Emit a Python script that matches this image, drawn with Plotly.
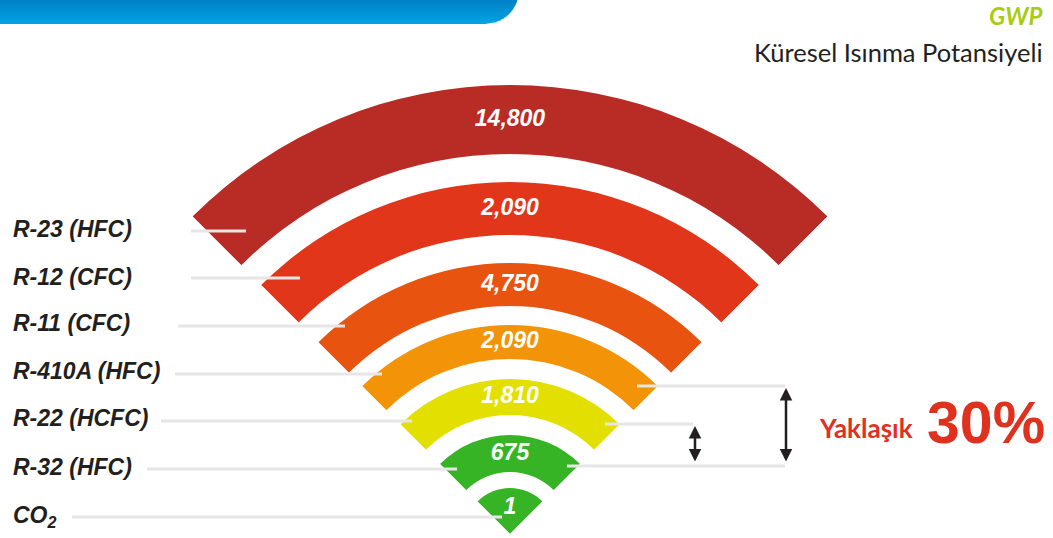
import math
import plotly.graph_objects as go

W, H = 1053, 538

# ---------------- data ----------------
refrigerants = ["R-23 (HFC)", "R-12 (CFC)", "R-11 (CFC)", "R-410A (HFC)",
                "R-22 (HCFC)", "R-32 (HFC)", "CO<sub>2</sub>"]
gwp_values = [14800, 2090, 4750, 2090, 1810, 675, 1]
title_top = "GWP"
title_sub = "Küresel Isınma Potansiyeli"
note_word = "Yaklaşık"
note_pct = "30%"

# ---------------- styles / geometry (pixels) ----------------
band_colors = ["#b92b25", "#e2361a", "#e8530f", "#f39307", "#e3df00", "#37b425", "#37b425"]
band_outer = [449, 352, 271, 209, 155, 99, 46]
band_inner = [380, 299, 228, 175, 119, 62, 0]
value_r = [414, 325, 249, 192, 137, 80, 26]
CX, CY, RMAX, HALF_ANGLE = 510, 534, 450, 45

label_y = [229, 277, 323, 371, 418, 467, 516]
lead_x0 = [191, 191, 178, 175, 161, 147, 72]
lead_x1 = [246, 300, 345, 382, 412, 457, 502]
lead_y = [231, 278, 326, 374, 421, 469, 517]
right_leads = [(637, 785, 386), (605, 693, 424), (567, 785, 466)]
arrows = [(786, 388, 463), (695, 426, 463)]

DARK = "#231f20"
LINE = "#e6e6e6"
RED = "#e0301e"
SANS = "Liberation Sans, Arial, sans-serif"
HUMAN = "Lato, Noto Sans, sans-serif"


def px(x):
    return x / W


def py(y):
    return 1 - y / H


fig = go.Figure()

# arcs: barpolar with base
fig.add_trace(go.Barpolar(
    theta=[90] * len(gwp_values),
    r=[o - i for o, i in zip(band_outer, band_inner)],
    base=band_inner,
    width=[2 * HALF_ANGLE] * len(gwp_values),
    marker=dict(color=band_colors, line=dict(width=0)),
    hovertext=[f"{n.replace('<sub>', '').replace('</sub>', '')}: {v:,}"
               for n, v in zip(refrigerants, gwp_values)],
    hoverinfo="text",
    showlegend=False,
))

fig.add_trace(go.Scatterpolar(
    theta=[90] * len(gwp_values),
    r=value_r,
    mode="text",
    text=[f"{v:,}" for v in gwp_values],
    textposition="middle center",
    textfont=dict(family=SANS, size=23, color="white", weight="bold", style="italic"),
    hoverinfo="skip",
    showlegend=False,
))

sin45 = math.sin(math.radians(HALF_ANGLE))
fig.update_layout(
    width=W, height=H,
    margin=dict(l=0, r=0, t=0, b=0),
    paper_bgcolor="white",
    plot_bgcolor="white",
    showlegend=False,
    polar=dict(
        domain=dict(x=[px(CX - RMAX * sin45), px(CX + RMAX * sin45)],
                    y=[py(CY), py(CY - RMAX)]),
        sector=[90 - HALF_ANGLE, 90 + HALF_ANGLE],
        bgcolor="rgba(0,0,0,0)",
        radialaxis=dict(visible=False, range=[0, RMAX], showgrid=False, showline=False),
        angularaxis=dict(visible=False, rotation=0, direction="counterclockwise",
                         showgrid=False, showline=False),
    ),
)

shapes = []
# blue header bar with gradient + rounded corner
n_strips = 12
bar_h = 24
top_c = (0, 0x82, 0xc8)
bot_c = (0, 0xa2, 0xe2)
rr = 34
ccx, ccy = 485, bar_h - rr


def edge_x(y):
    d = y - ccy
    return ccx + math.sqrt(max(rr * rr - d * d, 0))


for k in range(n_strips):
    y0 = k * bar_h / n_strips
    y1 = min((k + 1) * bar_h / n_strips + 0.3, bar_h)
    t = k / (n_strips - 1)
    col = tuple(int(round(a + (b - a) * t)) for a, b in zip(top_c, bot_c))
    path = (f"M {px(0)},{py(y0)} L {px(edge_x(y0))},{py(y0)} "
            f"L {px(edge_x(y1))},{py(y1)} L {px(0)},{py(y1)} Z")
    shapes.append(dict(type="path", xref="paper", yref="paper", path=path,
                       fillcolor=f"rgb{col}", line=dict(width=0), layer="below"))

for x0, x1, y in zip(lead_x0, lead_x1, lead_y):
    shapes.append(dict(type="line", xref="paper", yref="paper",
                       x0=px(x0), x1=px(x1), y0=py(y), y1=py(y),
                       line=dict(color=LINE, width=3), layer="above"))
for x0, x1, y in right_leads:
    shapes.append(dict(type="line", xref="paper", yref="paper",
                       x0=px(x0), x1=px(x1), y0=py(y), y1=py(y),
                       line=dict(color=LINE, width=3), layer="above"))

annotations = []
for name, y in zip(refrigerants, label_y):
    annotations.append(dict(
        x=px(11), y=py(y), xref="paper", yref="paper", xanchor="left", yanchor="middle",
        text=name, showarrow=False,
        font=dict(family=SANS, size=23, color=DARK, weight="bold", style="italic"),
    ))

for x, y0, y1 in arrows:
    annotations.append(dict(
        x=px(x), y=py(y0), xref="paper", yref="paper",
        ax=0, ay=y1 - y0, text="", showarrow=True,
        arrowhead=2, startarrowhead=2, arrowside="end+start",
        arrowsize=1.0, startarrowsize=1.0, arrowwidth=2.5, arrowcolor=DARK,
        standoff=0, startstandoff=0,
    ))

annotations.append(dict(
    x=px(1045), y=py(16), xref="paper", yref="paper", xanchor="right", yanchor="middle",
    text=title_top, showarrow=False,
    font=dict(family=HUMAN, size=24, color="#a6cc14", weight="bold", style="italic"),
))
annotations.append(dict(
    x=px(1045), y=py(52), xref="paper", yref="paper", xanchor="right", yanchor="middle",
    text=title_sub, showarrow=False,
    font=dict(family=HUMAN, size=25.5, color=DARK),
))
annotations.append(dict(
    x=px(817), y=py(428), xref="paper", yref="paper", xanchor="left", yanchor="middle",
    text=note_word, showarrow=False,
    font=dict(family=HUMAN, size=26, color=RED, weight="bold"),
))
annotations.append(dict(
    x=px(1047), y=py(423), xref="paper", yref="paper", xanchor="right", yanchor="middle",
    text=note_pct, showarrow=False,
    font=dict(family=SANS, size=59, color=RED, weight="bold"),
))

fig.update_layout(shapes=shapes, annotations=annotations)
fig.write_html("out.html", config={"displayModeBar": False},
               post_script="document.body.style.margin='0';")
